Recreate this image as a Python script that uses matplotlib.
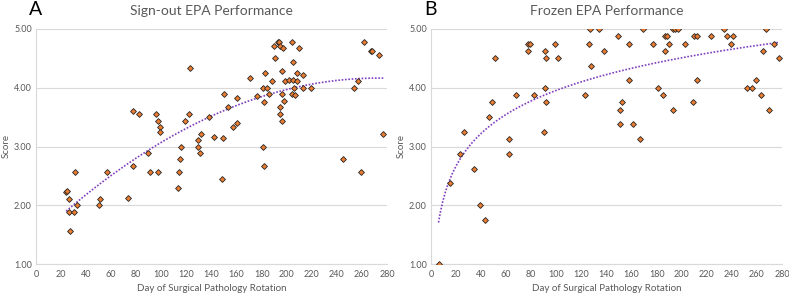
import numpy as np
import matplotlib
matplotlib.use("Agg")
import matplotlib.pyplot as plt

plt.rcParams['font.family'] = ['Lato', 'DejaVu Sans']

# -----------------------------------------------------------------------------
# Datos
# -----------------------------------------------------------------------------
signout_day = [24, 25, 26, 26, 27, 30, 31, 33, 50, 51, 57, 73, 77, 77, 82, 89,
               91, 96, 97, 97, 99, 99, 113, 114, 115, 116, 119, 122, 123, 129,
               129, 131, 132, 138, 142, 148, 149, 150, 153, 157, 160, 160, 171,
               176, 181, 181, 182, 182, 183, 184, 186, 188, 190, 191, 193, 194,
               195, 195, 195, 196, 196, 196, 197, 198, 199, 202, 204, 205, 205,
               204, 206, 207, 208, 208, 210, 213, 213, 219, 245, 254, 257, 259,
               262, 267, 268, 274, 277]
signout_score = [2.22, 2.25, 2.11, 1.89, 1.56, 1.89, 2.56, 2.00, 2.00, 2.11, 2.56,
                 2.12, 2.67, 3.60, 3.56, 2.89, 2.56, 3.56, 3.44, 2.57, 3.33, 3.25,
                 2.29, 2.56, 2.78, 3.00, 3.44, 3.56, 4.33, 3.00, 3.11, 2.89, 3.22,
                 3.50, 3.17, 2.44, 3.14, 3.89, 3.67, 3.33, 3.40, 3.83, 4.17, 3.86,
                 4.00, 3.00, 2.67, 3.75, 4.25, 4.00, 3.89, 4.11, 4.71, 4.50, 4.78,
                 4.78, 4.71, 3.67, 3.56, 4.29, 3.89, 3.44, 4.67, 3.78, 4.11, 4.13,
                 4.78, 4.44, 4.14, 3.89, 4.00, 3.88, 4.25, 4.11, 4.67, 4.22, 4.00,
                 4.00, 2.78, 4.00, 4.11, 2.56, 4.78, 4.63, 4.63, 4.56, 3.22]

frozen_day = [6, 15, 23, 26, 34, 39, 43, 46, 49, 51, 62, 62, 68, 77, 77, 79, 82,
              90, 91, 91, 92, 92, 99, 101, 123, 126, 127, 128, 134, 138, 149,
              151, 151, 152, 158, 158, 161, 167, 169, 177, 181, 185, 187, 188,
              187, 190, 193, 193, 195, 197, 203, 209, 210, 212, 212, 223, 234,
              236, 239, 241, 252, 256, 259, 263, 265, 267, 270, 274, 278]
frozen_score = [1.0, 2.375, 2.875, 3.25, 2.625, 2.0, 1.75, 3.5, 3.75, 4.5, 2.875,
                3.125, 3.875, 4.75, 4.625, 4.75, 3.875, 3.25, 4.0, 4.625, 4.5,
                3.75, 4.75, 4.5, 3.875, 4.75, 5.0, 4.375, 5.0, 4.625, 4.875,
                3.625, 3.375, 3.75, 4.75, 4.125, 3.375, 3.125, 5.0, 4.75, 4.0,
                3.875, 4.875, 4.875, 4.625, 4.75, 3.625, 5.0, 5.0, 5.0, 4.75,
                3.75, 4.875, 4.875, 4.125, 4.875, 5.0, 4.875, 4.75, 4.875, 4.0,
                4.0, 4.125, 3.875, 4.625, 5.0, 3.625, 4.75, 4.5]

x_ticks = list(range(0, 281, 20))
y_ticks = [1.0, 2.0, 3.0, 4.0, 5.0]

GRAY = "#595959"
ORANGE = "#ED7D31"
PURPLE = "#7F3FBF"


def style_axes(ax, title, letter):
    ax.set_xlim(0, 280)
    ax.set_ylim(1, 5)
    ax.set_xticks(x_ticks)
    ax.set_yticks(y_ticks)
    ax.set_yticklabels([f"{v:.2f}" for v in y_ticks])
    ax.tick_params(length=0, labelsize=6.5, colors=GRAY, pad=4)
    ax.tick_params(axis='y', pad=3)
    ax.grid(axis='y', color="#d9d9d9", linewidth=0.8)
    ax.set_axisbelow(True)
    for s in ["top", "right"]:
        ax.spines[s].set_visible(False)
    for s in ["left", "bottom"]:
        ax.spines[s].set_color("#d9d9d9")
        ax.spines[s].set_linewidth(0.8)
    ax.set_xlabel("Day of Surgical Pathology Rotation", fontsize=7, color=GRAY, labelpad=4)
    ax.set_ylabel("Score", fontsize=7, color=GRAY)
    ax.yaxis.set_label_coords(-0.072, 0.5)
    ax.set_title(title, fontsize=10, color=GRAY, pad=10)
    ax.text(-0.02, 1.045, letter, transform=ax.transAxes, fontsize=14,
            color="black", ha="left", va="bottom")


def scatter(ax, x, y):
    ax.plot(x, y, linestyle="none", marker="D", markersize=3.0,
            markerfacecolor=ORANGE, markeredgecolor="#262626",
            markeredgewidth=0.6, zorder=3)


fig = plt.figure(figsize=(7.89, 2.95), dpi=100)
ax1 = fig.add_axes([36/789, 31/295, 351/789, 235/295])
ax2 = fig.add_axes([431/789, 31/295, 351/789, 235/295])

# Panel A: tendencia polinómica orden 2
xs = np.array(signout_day, dtype=float)
ys = np.array(signout_score, dtype=float)
coef = np.polyfit(xs, ys, 2)
xt = np.linspace(xs.min(), xs.max(), 200)
ax1.plot(xt, np.polyval(coef, xt), linestyle=(0, (1, 1)), color=PURPLE,
         linewidth=1.2, zorder=2)
scatter(ax1, signout_day, signout_score)
style_axes(ax1, "Sign-out EPA Performance", "A")

# Panel B: tendencia logarítmica
xf = np.array(frozen_day, dtype=float)
yf = np.array(frozen_score, dtype=float)
a, b = np.polyfit(np.log(xf), yf, 1)
xt = np.linspace(xf.min(), xf.max(), 300)
ax2.plot(xt, a*np.log(xt) + b, linestyle=(0, (1, 1)), color=PURPLE,
         linewidth=1.2, zorder=2)
scatter(ax2, frozen_day, frozen_score)
style_axes(ax2, "Frozen EPA Performance", "B")

fig.savefig("out.png", dpi=100)
